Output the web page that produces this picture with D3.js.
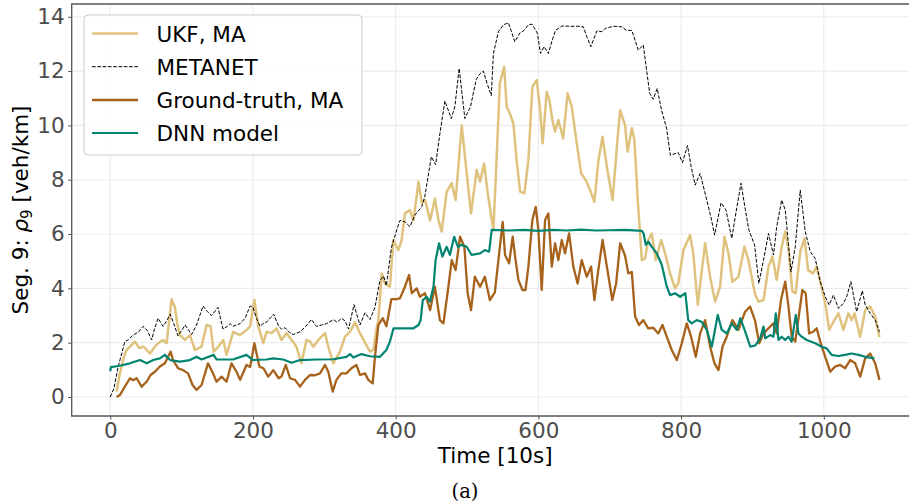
<!DOCTYPE html>
<html>
<head>
<meta charset="utf-8">
<script src="https://cdn.jsdelivr.net/npm/d3@7"></script>
<style>
  html, body { margin: 0; padding: 0; background: #fff; }
  svg { display: block; font-family: "DejaVu Sans", sans-serif; }
</style>
</head>
<body>
<div id="chart"></div>
<script>
// values: [time (10s), density (veh/km)]
const xTicks = [0, 200, 400, 600, 800, 1000];
const yTicks = [0, 2, 4, 6, 8, 10, 12, 14];

const ukfMA = [[9,0.2],[13,0.8],[18,1.36],[22,1.7],[27.6,1.85],[34.6,2.04],[40.7,1.8],[47,1.85],[55.6,1.6],[62.6,1.85],[67,1.98],[74,2.1],[79,1.98],[83,2.9],[86,3.6],[90.7,3.3],[94,2.7],[97.7,2.28],[104.7,2.1],[111.7,2.28],[118.7,1.73],[124,1.8],[128,1.85],[135,2.65],[140.6,2.6],[145,1.67],[151.4,1.85],[158.4,2.1],[163,1.55],[172.4,2.4],[181.8,2.28],[191,2.47],[196,2.6],[202,3.57],[207.5,2.6],[214.5,1.98],[219,2.4],[226,2.35],[233,2.53],[240,2.1],[247,2.35],[256.5,2.02],[261,1.85],[268,1.24],[275,2.1],[280,2.05],[284.6,1.85],[291.6,2.1],[301,2.35],[305.6,1.85],[312.6,1.24],[322,1.67],[329,2.22],[336,2.4],[343,2.75],[350,2.35],[357,2.0],[364,1.67],[369,1.75],[373,2.5],[375.8,2.83],[380.5,4.55],[385,4.18],[392,4.06],[396.7,5.78],[403.8,5.41],[408.4,5.78],[413,6.76],[420,6.88],[425,6.5],[432,7.93],[436.6,7.13],[441.3,7.25],[448.3,6.5],[455,7.31],[460,6.5],[464.5,6.09],[471.5,7.56],[478.5,7.87],[484,7.25],[492.6,10.0],[499.6,8.23],[505.6,6.76],[513.6,8.36],[518.3,7.93],[524,8.6],[529,7.5],[537,6.15],[541,8.5],[546,11.55],[552,12.16],[555.6,10.69],[560,10.44],[565,10.07],[570,8.6],[574.4,7.56],[580.4,7.5],[586,8.72],[591.6,11.42],[597.7,11.67],[602.4,10.56],[606,9.34],[611.7,11.24],[615.4,10.93],[619.7,10.2],[623.4,9.77],[628,10.2],[634.7,9.52],[641,11.18],[646.8,10.69],[653.8,9.34],[660,8.23],[666.4,7.99],[672.4,7.62],[678.5,7.19],[684.2,8.72],[690,9.58],[696,8.48],[704,7.25],[710,9.21],[714.6,10.56],[721.5,10.0],[725,9.03],[731,9.9],[734.6,9.46],[739.3,7.25],[745,5.04],[749.5,5.1],[754,5.78],[758.9,6.02],[764.5,5.04],[772,5.78],[777.6,5.29],[784.6,4.55],[791.6,4.0],[796,4.18],[803.3,5.41],[812.6,5.96],[817,5.29],[823.4,3.39],[828,4.43],[833.7,5.66],[840.6,4.43],[847.7,3.51],[854.7,4.06],[860.8,5.9],[866.4,5.29],[872,4.24],[880.4,4.43],[888.8,5.53],[894.4,5.04],[903.5,3.8],[908.5,3.51],[915.5,3.57],[922.5,4.8],[928,5.17],[934,4.31],[941,5.53],[946,6.09],[950.5,5.47],[956,3.88],[960.5,3.82],[967,5.35],[973,5.84],[978,4.67],[985,4.55],[990,4.8],[995,4.25],[1002,3.45],[1007.5,2.47],[1013.5,2.77],[1020.5,3.08],[1027.5,2.47],[1034.5,3.08],[1039,2.83],[1043,3.08],[1051,2.22],[1058,3.2],[1065,3.33],[1072,2.96],[1078,2.2]];

const metanet = [[0,0],[5,0.3],[11,1.1],[20.5,2.04],[25,2.1],[32,2.28],[40,2.4],[46,2.6],[52,2.45],[58,2.1],[62,2.5],[67,2.9],[74,2.6],[79,2.8],[84,3.05],[89,2.7],[95,2.25],[100,2.45],[105,2.65],[114,2.3],[121,2.65],[130,3.35],[136,3.15],[142,3.0],[151,3.3],[158,2.5],[164,2.6],[168,2.7],[172,2.6],[177,2.65],[182,2.7],[189,2.9],[196,3.35],[200,3.3],[205,2.9],[210,2.6],[214,2.7],[219,2.75],[229,3.05],[236,2.6],[240,2.5],[245,2.55],[250,2.4],[256.5,2.3],[261,2.35],[266,2.4],[274,2.6],[282,2.85],[289,2.6],[296,2.65],[303,2.7],[313,2.85],[318,2.75],[324,2.9],[329,2.8],[334,2.5],[341.6,3.4],[346,3.0],[350,2.65],[357,3.1],[364,2.85],[371,3.3],[378,4.3],[383,4.45],[387,4.1],[394,5.5],[401.5,6.15],[406,6.5],[413,6.45],[420,6.27],[427,6.7],[436.5,7.0],[441,7.4],[450,8.85],[456,8.55],[462,9.7],[469,10.9],[478,10.25],[483,10.7],[489,12.1],[497,10.25],[505,10.7],[513,11.7],[518,11.9],[523,12.0],[528,11.55],[534,11.1],[537,12.65],[544,13.45],[551,13.7],[558,13.78],[567,13.08],[574,13.4],[580,13.5],[586,13.7],[591,13.73],[598.5,13.4],[603,12.65],[608,12.9],[614,12.65],[619,13.1],[624,13.5],[633,13.66],[645,13.65],[655,13.65],[663,13.63],[668,13.26],[673.5,12.9],[682,13.48],[689,13.45],[694,13.57],[705,13.65],[717,13.63],[723.6,13.5],[731,13.5],[740,12.77],[747,12.96],[756,11.18],[761,10.96],[766.5,11.36],[772.6,10.56],[779.6,9.9],[785,8.9],[796,9.0],[802,8.63],[809,9.26],[814,8.5],[819.7,7.8],[826.7,8.23],[836,7.25],[842,6.6],[847,5.96],[856,7.15],[863,6.88],[871,5.84],[877,6.8],[884,7.87],[890,6.9],[895,6.15],[903,5.6],[909,4.18],[915.5,5.04],[922.5,6.02],[929.5,5.23],[934,6.27],[941,7.25],[946,6.88],[954,4.61],[960,5.53],[967,7.62],[974,6.09],[981,5.35],[988,5.1],[995,4.25],[1002,3.69],[1007.5,3.39],[1013.5,3.75],[1020.6,3.26],[1027.6,3.45],[1032,3.69],[1038,4.25],[1046,3.14],[1054,3.91],[1058,3.39],[1065,3.08],[1072,2.83],[1078,2.4]];

const groundTruthMA = [[9,0],[13.5,0.07],[20.5,0.38],[27.6,0.69],[32,0.62],[37,0.69],[44,0.38],[51,0.56],[56.5,0.81],[62.6,0.93],[69.6,1.12],[76.6,1.24],[84.6,1.67],[88,1.36],[95,1.06],[102,0.99],[109,0.87],[115.4,0.44],[121,0.26],[128,0.44],[137,1.24],[144,0.87],[149,0.56],[156,0.75],[163,0.56],[170,1.24],[177,0.93],[182,0.63],[191,1.18],[196,1.1],[202,1.98],[209,1.12],[214.5,1.06],[221.5,0.75],[228.5,0.99],[236,0.69],[240,0.75],[246,1.18],[252,0.69],[259,0.63],[266,0.38],[273,0.63],[280,0.81],[287,0.8],[294,0.87],[301,1.18],[305.6,0.93],[311.7,0.2],[317,0.63],[324,0.87],[331,0.87],[338,1.06],[345,1.18],[350,0.81],[357,0.87],[361.7,0.63],[367.8,0.5],[371,1.48],[375.7,2.65],[382,2.9],[387,2.6],[394,3.6],[401,3.6],[406,3.63],[413,4.06],[418.7,4.49],[422.6,3.82],[429.5,4.0],[434,3.69],[441,3.82],[448.3,3.2],[455,4.06],[462,2.83],[467,2.71],[473.9,4.06],[478.6,5.04],[484,4.67],[490.2,5.9],[496.3,5.53],[500.9,3.82],[505.6,3.2],[511,4.43],[518.3,4.06],[525,4.43],[532,3.57],[539,3.85],[544,5.04],[550,6.45],[553.3,5.23],[559,4.92],[564,5.9],[567.4,5.17],[572,4.31],[577.6,3.94],[582,3.94],[586,4.8],[591.6,6.52],[596.3,7.0],[600,6.15],[604.7,3.94],[609.4,6.52],[614,6.76],[618.8,4.8],[623.4,5.66],[628,5.04],[632.8,5.78],[637.4,5.29],[643,6.02],[649,4.8],[655,4.18],[660.7,5.04],[667.8,4.43],[673.9,4.8],[678.5,3.57],[684,4.67],[690,5.78],[696,4.8],[703.6,3.57],[709,4.18],[714.6,5.66],[721.5,5.2],[726,4.55],[731,4.6],[735.6,2.96],[741,2.65],[747,2.83],[754,2.53],[761,2.55],[768,2.34],[773.9,2.65],[779.9,2.22],[786.9,1.73],[794,1.36],[801,1.98],[808,2.71],[814,2.22],[820.6,1.48],[826.7,2.34],[833.7,2.83],[840.7,1.85],[846.8,1.24],[852.4,0.99],[858,1.85],[864,2.22],[872,2.83],[880.4,2.47],[889.7,3.14],[896.7,3.33],[903.8,2.8],[909.4,1.98],[915.5,2.34],[922.5,2.53],[929.5,2.71],[934,2.34],[940,3.57],[946,4.25],[950.5,3.33],[955,2.22],[960,2.04],[965.5,3.08],[970,3.94],[974.6,3.82],[979.4,2.34],[985,2.4],[990,2.53],[995,2.04],[1002,1.48],[1009,0.93],[1016,1.12],[1023,1.18],[1030,1.06],[1037,1.36],[1044,1.24],[1051,0.75],[1058,1.42],[1065,1.6],[1072,1.24],[1078,0.63]];

const dnnModel = [[0,0.95],[1,1.1],[13.5,1.15],[27.6,1.24],[41.6,1.36],[51,1.24],[60.3,1.36],[69.6,1.42],[76.6,1.55],[84,1.36],[97.7,1.3],[111.7,1.36],[121,1.48],[128,1.38],[145,1.55],[149,1.38],[172,1.38],[191,1.55],[200,1.36],[219,1.38],[228.5,1.42],[242.5,1.38],[254,1.26],[266,1.36],[289,1.38],[312.6,1.39],[331,1.48],[336,1.58],[340.7,1.45],[352,1.58],[364,1.5],[378,1.48],[387,1.73],[392,2.04],[397,2.53],[406,2.53],[425,2.53],[432,2.65],[435,2.83],[438,3.57],[443.5,3.69],[448,3.51],[453,4.06],[456,5.04],[460.8,5.66],[465.5,5.17],[471.5,5.53],[476,5.23],[482,5.9],[487.3,5.53],[492,5.6],[499.6,5.53],[506.5,5.23],[518.3,5.29],[525,5.41],[531,5.35],[534.6,6.15],[560,6.13],[580,6.15],[600,6.12],[620,6.15],[640,6.13],[660,6.16],[680,6.13],[700,6.14],[721.5,6.15],[745,6.12],[747.5,6.02],[750.5,5.6],[754,5.72],[759,5.53],[766,5.29],[773,4.86],[780,4.06],[784.6,3.75],[791.6,3.82],[798.7,3.69],[806,3.82],[810,2.83],[814.8,2.71],[821.9,2.83],[828.8,2.77],[836,2.47],[843,1.85],[851.4,3.02],[857,2.47],[864,2.34],[871,2.71],[878,2.47],[883,2.9],[889,2.47],[897,1.85],[904,1.9],[910.8,2.16],[915.5,2.59],[918,2.16],[925,2.28],[929.5,2.22],[932.7,3.08],[936.5,2.1],[941,2.22],[945.9,2.1],[950.5,2.22],[955,2.04],[960.8,3.02],[964.5,2.34],[969,2.22],[976,2.1],[988,1.98],[997,1.85],[1004,1.79],[1011,1.55],[1020.5,1.51],[1030,1.55],[1039,1.6],[1048.6,1.55],[1058,1.48],[1071,1.42]];

const seriesNames = ["UKF, MA", "METANET", "Ground-truth, MA", "DNN model"];

function drawChart() {
  const width = 909, height = 503;
  const left = 71.7, right = 918.7, top = 4, bottom = 416;

  const svg = d3.select("#chart").append("svg")
    .attr("width", width).attr("height", height)
    .attr("viewBox", [0, 0, width, height]);

  const x = d3.scaleLinear().domain([-54, 1133]).range([left, right]);
  const y = d3.scaleLinear().domain([-0.7, 14.47]).range([bottom, top]);

  // grid
  svg.append("g").selectAll("line").data(xTicks).join("line")
    .attr("x1", d => x(d)).attr("x2", d => x(d))
    .attr("y1", top).attr("y2", bottom)
    .attr("stroke", "#ebebeb").attr("stroke-width", 1.1);
  svg.append("g").selectAll("line").data(yTicks).join("line")
    .attr("x1", left).attr("x2", right)
    .attr("y1", d => y(d)).attr("y2", d => y(d))
    .attr("stroke", "#ebebeb").attr("stroke-width", 1.1);

  const line = d3.line().x(d => x(d[0])).y(d => y(d[1]));

  const series = [
    { data: ukfMA, color: "#dfc27d", w: 2.5, dash: null },
    { data: metanet, color: "#000", w: 1, dash: "3.7,1.6" },
    { data: groundTruthMA, color: "#a6611a", w: 2.3, dash: null },
    { data: dnnModel, color: "#018571", w: 2.2, dash: null }
  ];

  series.forEach(s => {
    svg.append("path").datum(s.data)
      .attr("d", line)
      .attr("fill", "none")
      .attr("stroke", s.color)
      .attr("stroke-width", s.w)
      .attr("stroke-linejoin", "round")
      .attr("stroke-dasharray", s.dash);
  });

  // axes
  const xAxis = d3.axisBottom(x).tickValues(xTicks).tickFormat(d3.format("d"))
    .tickSize(3.5).tickPadding(3.5);
  const yAxis = d3.axisLeft(y).tickValues(yTicks).tickFormat(d3.format("d"))
    .tickSize(3.5).tickPadding(3.5);

  const gx = svg.append("g").attr("transform", `translate(0,${bottom})`).call(xAxis);
  const gy = svg.append("g").attr("transform", `translate(${left},0)`).call(yAxis);
  [gx, gy].forEach(g => {
    g.select(".domain").remove();
    g.selectAll(".tick line").attr("stroke", "#4d4d4d").attr("stroke-width", 1);
    g.selectAll(".tick text")
      .attr("fill", "#4d4d4d")
      .style("font-family", "DejaVu Sans")
      .style("font-size", "21.5px");
  });

  // frame (left, bottom, top)
  svg.append("path")
    .attr("d", `M${right},${top}H${left}V${bottom}H${right}`)
    .attr("fill", "none").attr("stroke", "#555").attr("stroke-width", 1.3);

  // axis labels
  svg.append("text")
    .attr("x", (left + right) / 2).attr("y", 463)
    .attr("text-anchor", "middle")
    .style("font-size", "21.5px")
    .text("Time [10s]");

  const ylab = svg.append("text")
    .attr("transform", `translate(28,${(top + bottom) / 2}) rotate(-90)`)
    .attr("text-anchor", "middle")
    .style("font-size", "21.5px");
  ylab.append("tspan").text("Seg. 9: ");
  ylab.append("tspan").style("font-style", "italic").text("ρ");
  ylab.append("tspan").attr("dy", 4).style("font-size", "15px").text("9");
  ylab.append("tspan").attr("dy", -4).text(" [veh/km]");

  svg.append("text")
    .attr("x", 465).attr("y", 498)
    .attr("text-anchor", "middle")
    .style("font-family", "'DejaVu Serif', serif")
    .style("font-size", "19.5px")
    .text("(a)");

  // legend
  const lg = svg.append("g");
  lg.append("rect")
    .attr("x", 84).attr("y", 15).attr("width", 278).attr("height", 140)
    .attr("rx", 4)
    .attr("fill", "#fff").attr("fill-opacity", 0.8)
    .attr("stroke", "#cccccc").attr("stroke-width", 1);
  const rowY = [33.5, 66.7, 100, 133];
  series.forEach((s, i) => {
    lg.append("line")
      .attr("x1", 92).attr("x2", 138)
      .attr("y1", rowY[i]).attr("y2", rowY[i])
      .attr("stroke", s.color)
      .attr("stroke-width", s.w)
      .attr("stroke-dasharray", s.dash);
    lg.append("text")
      .attr("x", 156.5).attr("y", rowY[i] + 8)
      .style("font-size", "21.5px")
      .text(seriesNames[i]);
  });
}

drawChart();
</script>
</body>
</html>
